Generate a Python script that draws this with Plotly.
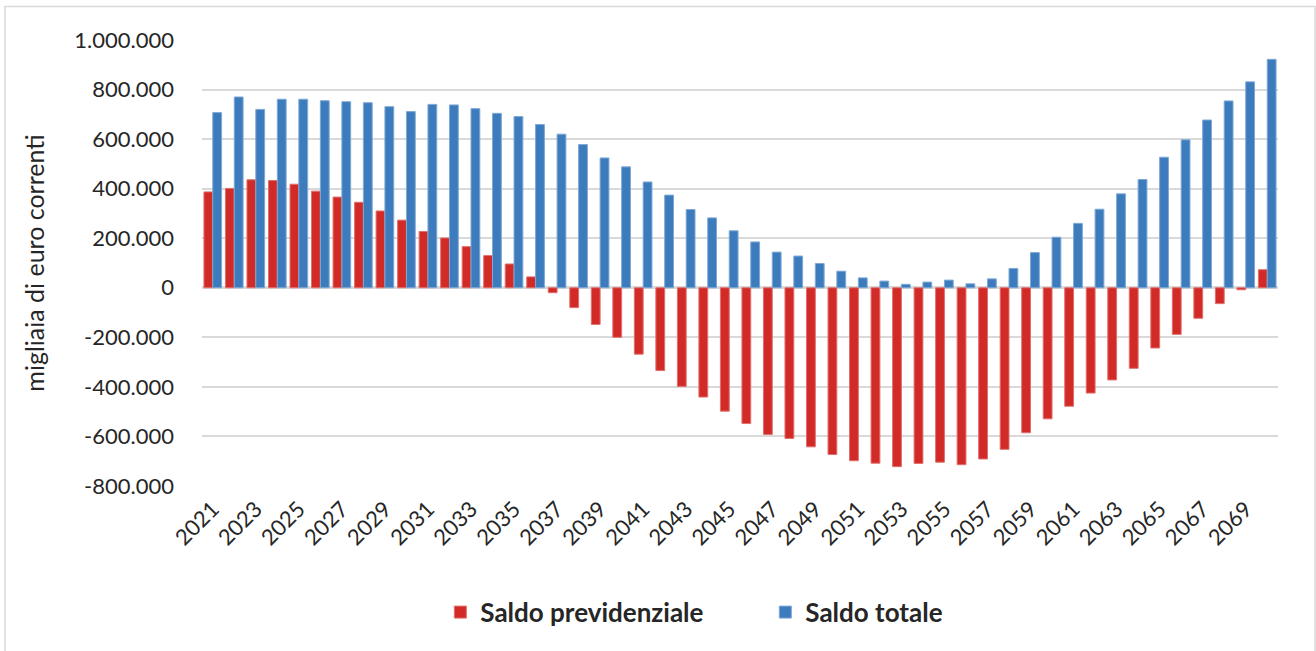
import plotly.graph_objects as go

# years on the category axis
anni = [str(a) for a in range(2021, 2071)]

# migliaia di euro correnti
saldo_previdenziale = [
    387000, 401000, 436000, 433000, 418000, 390000, 366000, 345000, 310000, 273000,
    227000, 201000, 166000, 130000, 96000, 44000, -20000, -80000, -148000, -200000,
    -268000, -334000, -398000, -441000, -498000, -548000, -592000, -608000, -642000, -673000,
    -698000, -708000, -722000, -709000, -704000, -714000, -691000, -652000, -585000, -529000,
    -478000, -425000, -372000, -325000, -243000, -188000, -123000, -64000, -8000, 73000,
]
saldo_totale = [
    707000, 770000, 720000, 761000, 761000, 755000, 751000, 747000, 731000, 711000,
    740000, 738000, 723000, 704000, 691000, 659000, 620000, 578000, 524000, 488000,
    427000, 374000, 316000, 282000, 230000, 185000, 144000, 128000, 98000, 67000,
    40000, 27000, 14000, 23000, 31000, 16000, 36000, 78000, 142000, 204000,
    260000, 317000, 379000, 437000, 527000, 597000, 677000, 754000, 831000, 922000,
]

y_tick_vals = [1000000, 800000, 600000, 400000, 200000, 0, -200000, -400000, -600000, -800000]
y_tick_text = ["1.000.000", "800.000", "600.000", "400.000", "200.000", "0",
               "-200.000", "-400.000", "-600.000", "-800.000"]
x_tick_vals = anni[::2]

FONT = "Lato"

fig = go.Figure()
fig.add_trace(go.Bar(
    x=anni, y=saldo_previdenziale, name="Saldo previdenziale",
    marker=dict(color="#D22A26", line=dict(color="#E0706D", width=1)),
))
fig.add_trace(go.Bar(
    x=anni, y=saldo_totale, name="Saldo totale",
    marker=dict(color="#3D7CBC", line=dict(color="#7FA8D6", width=1)),
))

fig.update_layout(
    width=1316, height=651,
    margin=dict(l=202, r=38, t=40, b=165, autoexpand=False),
    plot_bgcolor="white", paper_bgcolor="white",
    barmode="group", bargap=0.18, bargroupgap=0.0,
    font=dict(family=FONT, color="#262626", size=22),
    showlegend=True,
    legend=dict(
        orientation="h", x=0.2215, xanchor="left", y=-0.283, yanchor="middle",
        font=dict(family=FONT, size=26, color="#262626", weight="bold"),
        itemwidth=30, entrywidth=280,
    ),
)
fig.update_xaxes(
    type="category", tickmode="array", tickvals=x_tick_vals, ticktext=x_tick_vals,
    tickangle=-45, tickfont=dict(size=22), showgrid=False, showline=False,
    ticks="", automargin=False, ticklabelstandoff=5,
)
fig.update_yaxes(
    range=[-800000, 1000000], tickmode="array", tickvals=y_tick_vals, ticktext=y_tick_text,
    showgrid=True, gridcolor="#D9D9D9", gridwidth=1.5,
    zeroline=True, zerolinecolor="#D9D9D9", zerolinewidth=3,
    ticklabelstandoff=27, tickfont=dict(size=22), automargin=False,
    title=dict(text="migliaia di euro correnti", font=dict(size=25), standoff=22),
)

# cornice grigia del riquadro del grafico
fig.add_shape(
    type="rect", xref="paper", yref="paper",
    x0=-197 / 1076, x1=1113 / 1076, y0=-170 / 446, y1=479.5 / 446,
    line=dict(color="#D9D9D9", width=1.5), layer="below",
)

# no default body margin, so the figure fills the window
fig.write_html("out.html", config={"displayModeBar": False},
               post_script="document.body.style.margin='0';")
